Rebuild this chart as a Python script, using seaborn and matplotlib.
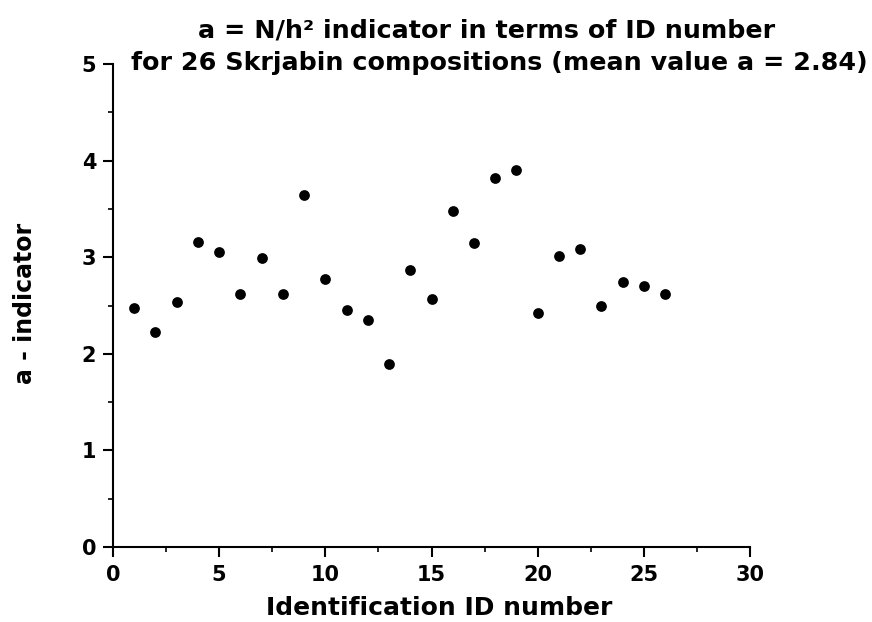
import numpy as np
import pandas as pd
import matplotlib
matplotlib.use("Agg")
import matplotlib.pyplot as plt
from matplotlib.ticker import MultipleLocator
import seaborn as sns

ids = list(range(1, 27))
a_values = [2.47, 2.23, 2.54, 3.16, 3.05, 2.62, 2.99, 2.62, 3.64, 2.77,
            2.45, 2.35, 1.89, 2.87, 2.57, 3.48, 3.15, 3.82, 3.90, 2.42,
            3.01, 3.09, 2.50, 2.74, 2.70, 2.62]
x_ticks = [0, 5, 10, 15, 20, 25, 30]
y_ticks = [0, 1, 2, 3, 4, 5]

sns.set_style("ticks")
plt.rcParams['font.family'] = ['DejaVu Sans']
plt.rcParams['font.weight'] = 'bold'
plt.rcParams['text.color'] = 'black'
plt.rcParams['xtick.color'] = 'black'
plt.rcParams['ytick.color'] = 'black'

df = pd.DataFrame({"id": ids, "a": a_values})

fig = plt.figure(figsize=(8.72, 6.22), dpi=100)
ax = fig.add_axes([113/872, 1-547/622, (750-113)/872, (547-64)/622])
sns.scatterplot(data=df, x="id", y="a", ax=ax, color="black", s=60,
                edgecolor="black", linewidth=0, legend=False)

ax.set_xlim(0, 30)
ax.set_ylim(0, 5)
ax.set_xticks(x_ticks)
ax.set_yticks(y_ticks)
ax.xaxis.set_minor_locator(MultipleLocator(2.5))
ax.yaxis.set_minor_locator(MultipleLocator(0.5))
for side in ["top", "right"]:
    ax.spines[side].set_visible(False)
for side in ["left", "bottom"]:
    ax.spines[side].set_linewidth(1.5)
    ax.spines[side].set_color("black")
ax.tick_params(which="major", direction="out", length=7, width=1.5, colors="black",
               labelsize=15)
ax.tick_params(axis="x", which="major", pad=6)
ax.tick_params(axis="y", which="major", pad=5)
ax.tick_params(which="minor", direction="out", length=3.6, width=1.2, colors="black")
for lab in ax.get_xticklabels() + ax.get_yticklabels():
    lab.set_fontweight("bold")
    lab.set_color("black")
ax.set_xlabel("")
ax.set_ylabel("")

fig.text(439/872, 1-615/622, "Identification ID number", ha="center", va="baseline",
         fontsize=18, fontweight="bold")
fig.text(25/872, 1-303/622, "a - indicator", ha="center", va="center",
         rotation=90, fontsize=17, fontweight="bold")
fig.text(487/872, 1-38/622, "a = N/h\u00b2 indicator in terms of ID number",
         ha="center", va="baseline", fontsize=18.3, fontweight="bold")
fig.text(499/872, 1-70/622, "for 26 Skrjabin compositions (mean value a = 2.84)",
         ha="center", va="baseline", fontsize=18.3, fontweight="bold")

fig.savefig("out.png", dpi=100)
